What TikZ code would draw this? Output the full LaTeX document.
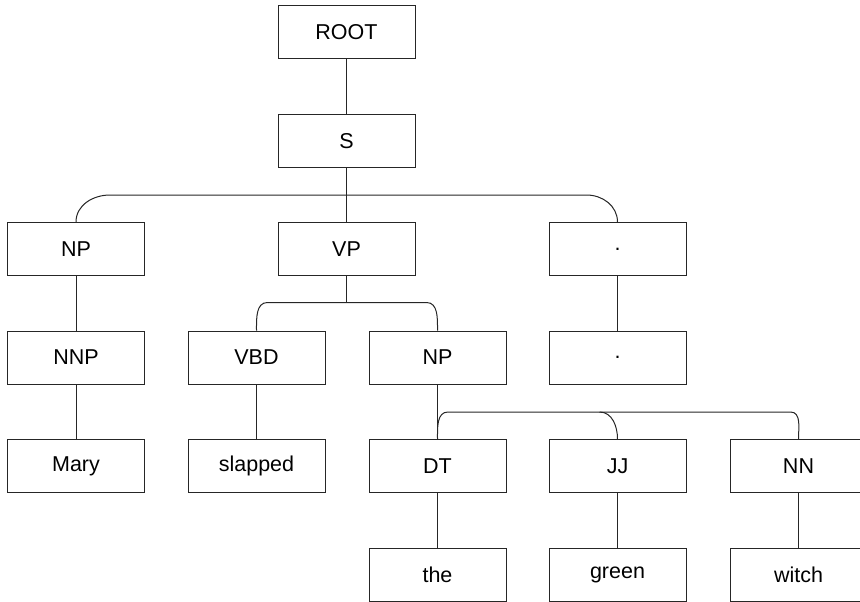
\documentclass[tikz,border=0pt]{standalone}
\usepackage{fontspec}
\setmainfont{Liberation Sans}
\usetikzlibrary{calc}
\begin{document}
\begin{tikzpicture}[x=1pt,y=-1pt,
  treebox/.style={draw=black!85, line width=1pt, minimum width=137pt,
    minimum height=53pt, inner sep=0pt, font=\fontsize{21.5}{25}\selectfont},
  link/.style={draw=black!85, line width=1pt}]
\useasboundingbox (0,0) rectangle (860,602);

% constituent boxes
\node[treebox] (ROOT) at (346.5,32.5) {ROOT};
\node[treebox] (S) at (346.5,140.8) {S};
\node[treebox] (NPa) at (76,249) {NP};
\node[treebox] (VP) at (346.5,249) {VP};
\node[treebox] (PUa) at (617.5,249) {.};
\node[treebox] (NNP) at (76,357.5) {NNP};
\node[treebox] (VBD) at (256.5,357.5) {VBD};
\node[treebox] (NPb) at (437.5,357.5) {NP};
\node[treebox] (PUb) at (617.5,357.5) {.};
\node[treebox] (Mary) at (76,466) {Mary};
\node[treebox] (slapped) at (256.5,466) {slapped};
\node[treebox] (DT) at (437.5,466) {DT};
\node[treebox] (JJ) at (617.5,466) {JJ};
\node[treebox] (NN) at (798.5,466) {NN};
\node[treebox] (the) at (437.5,574.5) {the};
\node[treebox] (green) at (617.5,574.5) {green};
\node[treebox] (witch) at (798.5,574.5) {witch};

% single-child links
\draw[link] (ROOT) -- (S);
\draw[link] (NPa) -- (NNP);
\draw[link] (NNP) -- (Mary);
\draw[link] (VBD) -- (slapped);
\draw[link] (PUa) -- (PUb);
\draw[link] (NPb) -- (DT);
\draw[link] (DT) -- (the);
\draw[link] (JJ) -- (green);
\draw[link] (NN) -- (witch);

% S -> NP VP .
\draw[link] (S) -- (VP);
\draw[link] (NPa.north) to[out=90,in=180] ($(NPa.north)+(34,-27)$)
  -- ($(PUa.north)+(-31,-27)$) to[out=0,in=90] (PUa.north);

% VP -> VBD NP
\coordinate (vpbar) at ($(VBD.north)+(11,-28)$);
\draw[link] (VP.south) -- (VP.south |- vpbar);
\draw[link] (VBD.north) to[out=90,in=180] (vpbar)
  -- ($(NPb.north)+(-11,-28)$) to[out=0,in=90] (NPb.north);

% NP -> DT JJ NN
\draw[link] (DT.north) to[out=90,in=180] ($(DT.north)+(10.5,-27)$)
  -- ($(NN.north)+(-8,-27)$) to[out=0,in=90] (NN.north);
\draw[link] ($(JJ.north)+(-18,-27)$) to[out=0,in=90] (JJ.north);
\end{tikzpicture}
\end{document}
